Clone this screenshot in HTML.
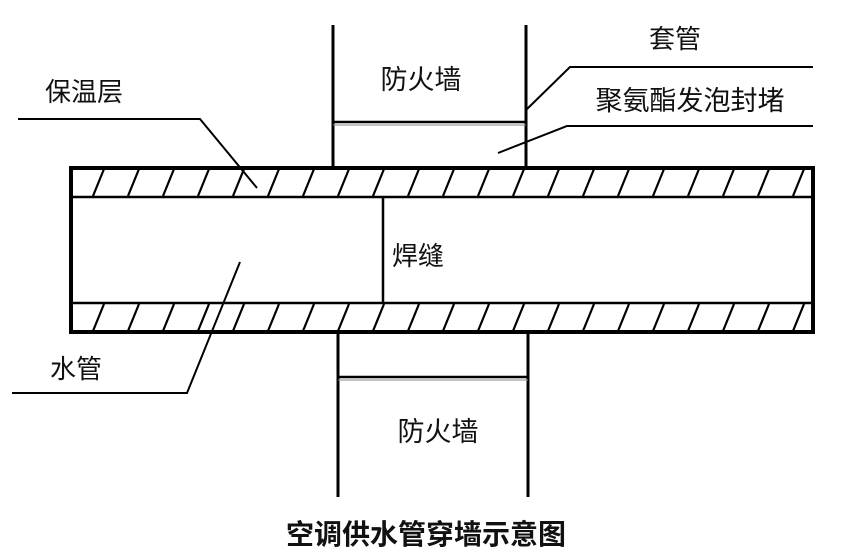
<!DOCTYPE html>
<html><head><meta charset="utf-8"><style>
body{margin:0;background:#fff;}
svg{display:block}
text{font-family:"Liberation Sans","Noto Sans CJK SC",sans-serif;fill:#111}
</style></head><body>
<svg width="859" height="547" viewBox="0 0 859 547" xmlns="http://www.w3.org/2000/svg">
<g stroke="#000" stroke-width="2.2">
<path d="M93,196l11,-27M128,196l11,-27M163,196l11,-27M198,196l11,-27M233,196l11,-27M268,196l11,-27M303,196l11,-27M338,196l11,-27M373,196l11,-27M408,196l11,-27M443,196l11,-27M478,196l11,-27M513,196l11,-27M548,196l11,-27M583,196l11,-27M618,196l11,-27M653,196l11,-27M688,196l11,-27M723,196l11,-27M758,196l11,-27M793,196l11,-27"/>
<path d="M93,331l11,-27M128,331l11,-27M163,331l11,-27M198,331l11,-27M233,331l11,-27M268,331l11,-27M303,331l11,-27M338,331l11,-27M373,331l11,-27M408,331l11,-27M443,331l11,-27M478,331l11,-27M513,331l11,-27M548,331l11,-27M583,331l11,-27M618,331l11,-27M653,331l11,-27M688,331l11,-27M723,331l11,-27M758,331l11,-27M793,331l11,-27"/>
</g>
<g stroke="#000" fill="none">
<rect x="71" y="168" width="742" height="164" stroke-width="4"/>
<line x1="71" y1="197" x2="813" y2="197" stroke-width="2.5"/>
<line x1="71" y1="303" x2="813" y2="303" stroke-width="2.5"/>
<line x1="383" y1="197" x2="383" y2="303" stroke-width="2.5"/>
<line x1="333" y1="25" x2="333" y2="168" stroke-width="3"/>
<line x1="526" y1="25" x2="526" y2="168" stroke-width="3"/>
<line x1="333" y1="122" x2="526" y2="122" stroke-width="2.5"/>
<line x1="333" y1="125" x2="526" y2="125" stroke-width="1" stroke="#888"/>
<line x1="338" y1="332" x2="338" y2="497" stroke-width="3"/>
<line x1="528" y1="332" x2="528" y2="497" stroke-width="3"/>
<line x1="338" y1="377" x2="528" y2="377" stroke-width="2.5"/>
<line x1="338" y1="380" x2="528" y2="380" stroke-width="1" stroke="#888"/>
<polyline points="18,119 200,119 257,188" stroke-width="2"/>
<polyline points="526,110 570,67 813,67" stroke-width="2"/>
<polyline points="498,153 567,126 813,126" stroke-width="2"/>
<polyline points="12,393 187,393 240,262" stroke-width="2"/>
</g>
<text x="45" y="101" font-size="26">保温层</text>
<text x="421" y="89" font-size="27" text-anchor="middle">防火墙</text>
<text x="675" y="48" font-size="26" text-anchor="middle">套管</text>
<text x="690" y="110" font-size="27" text-anchor="middle">聚氨酯发泡封堵</text>
<text x="392" y="265" font-size="26">焊缝</text>
<text x="50" y="378" font-size="26">水管</text>
<text x="438" y="441" font-size="27" text-anchor="middle">防火墙</text>
<text x="426" y="544" font-size="28" font-weight="bold" text-anchor="middle">空调供水管穿墙示意图</text>
</svg>
</body></html>
